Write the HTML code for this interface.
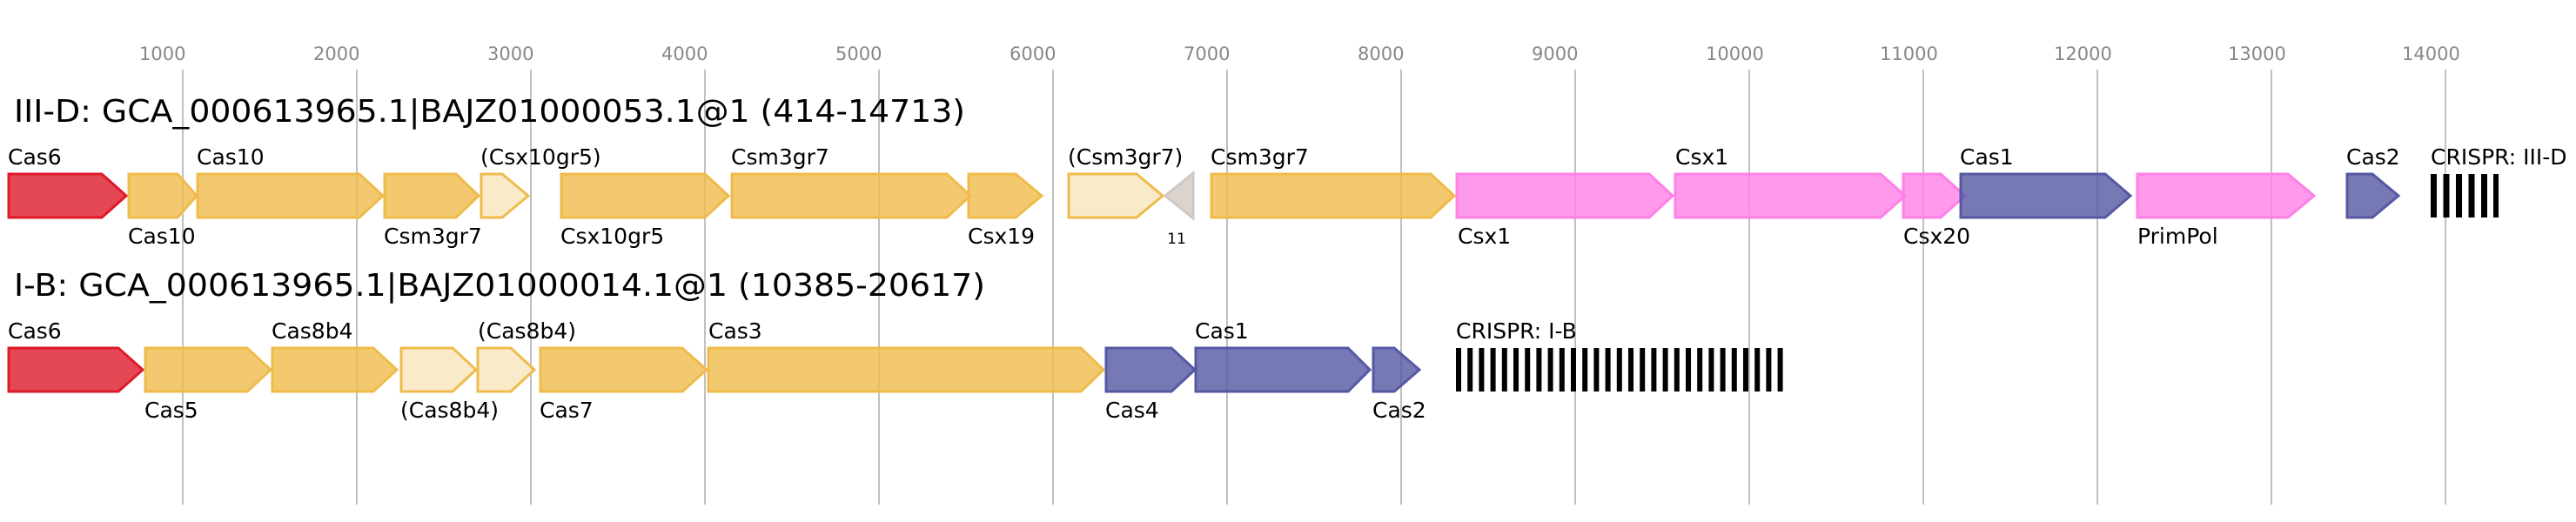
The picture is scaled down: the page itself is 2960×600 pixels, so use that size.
<!DOCTYPE html>
<html><head><meta charset="utf-8"><style>html,body{margin:0;padding:0;background:#fff}svg{display:block}</style></head>
<body>
<svg width="2960" height="600" viewBox="0 0 2960 600" xmlns="http://www.w3.org/2000/svg" font-family="DejaVu Sans, Liberation Sans, sans-serif">
<g stroke="#c0c0c0" stroke-width="2">
<line x1="210" y1="80" x2="210" y2="580"/><line x1="410" y1="80" x2="410" y2="580"/><line x1="610" y1="80" x2="610" y2="580"/><line x1="810" y1="80" x2="810" y2="580"/><line x1="1010" y1="80" x2="1010" y2="580"/><line x1="1210" y1="80" x2="1210" y2="580"/><line x1="1410" y1="80" x2="1410" y2="580"/><line x1="1610" y1="80" x2="1610" y2="580"/><line x1="1810" y1="80" x2="1810" y2="580"/><line x1="2010" y1="80" x2="2010" y2="580"/><line x1="2210" y1="80" x2="2210" y2="580"/><line x1="2410" y1="80" x2="2410" y2="580"/><line x1="2610" y1="80" x2="2610" y2="580"/><line x1="2810" y1="80" x2="2810" y2="580"/>
</g>
<g fill="#888" font-size="21">
<text x="160" y="69">1000</text><text x="360" y="69">2000</text><text x="560" y="69">3000</text><text x="760" y="69">4000</text><text x="960" y="69">5000</text><text x="1160" y="69">6000</text><text x="1360" y="69">7000</text><text x="1560" y="69">8000</text><text x="1760" y="69">9000</text><text x="1960" y="69">10000</text><text x="2160" y="69">11000</text><text x="2360" y="69">12000</text><text x="2560" y="69">13000</text><text x="2760" y="69">14000</text>
</g>
<text x="16" y="140" font-size="36" textLength="1093" lengthAdjust="spacingAndGlyphs">III-D: GCA_000613965.1|BAJZ01000053.1@1 (414-14713)</text>
<text x="16" y="340" font-size="36" textLength="1116" lengthAdjust="spacingAndGlyphs">I-B: GCA_000613965.1|BAJZ01000014.1@1 (10385-20617)</text>
<g stroke-width="3" fill-opacity="0.8">
<polygon points="10,200 117,200 145,225 117,250 10,250" fill="#de1a2a" stroke="#de1a2a"/>
<polygon points="148,200 204,200 226,225 204,250 148,250" fill="#efbb4b" stroke="#efbb4b"/>
<polygon points="227,200 413,200 440,225 413,250 227,250" fill="#efbb4b" stroke="#efbb4b"/>
<polygon points="442,200 524,200 550,225 524,250 442,250" fill="#efbb4b" stroke="#efbb4b"/>
<polygon points="553,200 577,200 607,225 577,250 553,250" fill="#f8e6bd" stroke="#efbb4b"/>
<polygon points="645,200 810,200 837,225 810,250 645,250" fill="#efbb4b" stroke="#efbb4b"/>
<polygon points="841,200 1088,200 1115,225 1088,250 841,250" fill="#efbb4b" stroke="#efbb4b"/>
<polygon points="1113,200 1167,200 1197,225 1167,250 1113,250" fill="#efbb4b" stroke="#efbb4b"/>
<polygon points="1228,200 1306,200 1336,225 1306,250 1228,250" fill="#f8e6bd" stroke="#efbb4b"/>
<polygon points="1371,199 1371,251 1339,225" fill="#d2c8c2" stroke="#d2c8c2"/>
<polygon points="1392,200 1644,200 1671,225 1644,250 1392,250" fill="#efbb4b" stroke="#efbb4b"/>
<polygon points="1674,200 1895,200 1922,225 1895,250 1674,250" fill="#ff80e6" stroke="#ff80e6"/>
<polygon points="1925,200 2161,200 2189,225 2161,250 1925,250" fill="#ff80e6" stroke="#ff80e6"/>
<polygon points="2187,200 2230,200 2258,225 2230,250 2187,250" fill="#ff80e6" stroke="#ff80e6"/>
<polygon points="2253,200 2419,200 2448,225 2419,250 2253,250" fill="#5558a3" stroke="#5558a3"/>
<polygon points="2456,200 2629,200 2659,225 2629,250 2456,250" fill="#ff80e6" stroke="#ff80e6"/>
<polygon points="2697,200 2726,200 2756,225 2726,250 2697,250" fill="#5558a3" stroke="#5558a3"/>
<polygon points="10,400 136,400 164,425 136,450 10,450" fill="#de1a2a" stroke="#de1a2a"/>
<polygon points="167,400 284,400 311,425 284,450 167,450" fill="#efbb4b" stroke="#efbb4b"/>
<polygon points="313,400 429,400 456,425 429,450 313,450" fill="#efbb4b" stroke="#efbb4b"/>
<polygon points="461,400 520,400 547,425 520,450 461,450" fill="#f8e6bd" stroke="#efbb4b"/>
<polygon points="549,400 587,400 614,425 587,450 549,450" fill="#f8e6bd" stroke="#efbb4b"/>
<polygon points="621,400 784,400 812,425 784,450 621,450" fill="#efbb4b" stroke="#efbb4b"/>
<polygon points="814,400 1242,400 1268,425 1242,450 814,450" fill="#efbb4b" stroke="#efbb4b"/>
<polygon points="1271,400 1346,400 1373,425 1346,450 1271,450" fill="#5558a3" stroke="#5558a3"/>
<polygon points="1374,400 1549,400 1574,425 1549,450 1374,450" fill="#5558a3" stroke="#5558a3"/>
<polygon points="1578,400 1602,400 1631,425 1602,450 1578,450" fill="#5558a3" stroke="#5558a3"/>
</g>
<g fill="#000">
<rect x="2793" y="200" width="7" height="50"/><rect x="2807.5" y="200" width="7" height="50"/><rect x="2822" y="200" width="7" height="50"/><rect x="2836.5" y="200" width="7" height="50"/><rect x="2851" y="200" width="7" height="50"/><rect x="2865" y="200" width="6" height="50"/>
</g>
<g fill="#000">
<rect x="1673" y="400" width="6" height="50"/><rect x="1686.2" y="400" width="6" height="50"/><rect x="1699.4" y="400" width="6" height="50"/><rect x="1712.6" y="400" width="6" height="50"/><rect x="1725.8" y="400" width="6" height="50"/><rect x="1739" y="400" width="6" height="50"/><rect x="1752.2" y="400" width="6" height="50"/><rect x="1765.4" y="400" width="6" height="50"/><rect x="1778.6" y="400" width="6" height="50"/><rect x="1791.8" y="400" width="6" height="50"/><rect x="1805" y="400" width="6" height="50"/><rect x="1818.2" y="400" width="6" height="50"/><rect x="1831.4" y="400" width="6" height="50"/><rect x="1844.6" y="400" width="6" height="50"/><rect x="1857.8" y="400" width="6" height="50"/><rect x="1871" y="400" width="6" height="50"/><rect x="1884.2" y="400" width="6" height="50"/><rect x="1897.4" y="400" width="6" height="50"/><rect x="1910.6" y="400" width="6" height="50"/><rect x="1923.8" y="400" width="6" height="50"/><rect x="1937" y="400" width="6" height="50"/><rect x="1950.2" y="400" width="6" height="50"/><rect x="1963.4" y="400" width="6" height="50"/><rect x="1976.6" y="400" width="6" height="50"/><rect x="1989.8" y="400" width="6" height="50"/><rect x="2003" y="400" width="6" height="50"/><rect x="2016.2" y="400" width="6" height="50"/><rect x="2029.4" y="400" width="6" height="50"/><rect x="2042.6" y="400" width="6" height="50"/>
</g>
<g font-size="25" fill="#000">
<text x="9" y="189">Cas6</text><text x="226" y="189">Cas10</text><text x="552" y="189">(Csx10gr5)</text><text x="840" y="189">Csm3gr7</text><text x="1227" y="189">(Csm3gr7)</text><text x="1391" y="189">Csm3gr7</text><text x="1925" y="189">Csx1</text><text x="2252" y="189">Cas1</text><text x="2696" y="189">Cas2</text><text x="2793" y="189">CRISPR: III-D</text>
<text x="147" y="280">Cas10</text><text x="441" y="280">Csm3gr7</text><text x="644" y="280">Csx10gr5</text><text x="1112" y="280">Csx19</text><text x="1675" y="280">Csx1</text><text x="2187" y="280">Csx20</text><text x="2456" y="280">PrimPol</text>
<text x="1352" y="280" font-size="17" text-anchor="middle">11</text>
<text x="9" y="389">Cas6</text><text x="312" y="389">Cas8b4</text><text x="549" y="389">(Cas8b4)</text><text x="814" y="389">Cas3</text><text x="1373" y="389">Cas1</text><text x="1673" y="389">CRISPR: I-B</text>
<text x="166" y="480">Cas5</text><text x="460" y="480">(Cas8b4)</text><text x="620" y="480">Cas7</text><text x="1270" y="480">Cas4</text><text x="1577" y="480">Cas2</text>
</g>
</svg>
</body></html>
